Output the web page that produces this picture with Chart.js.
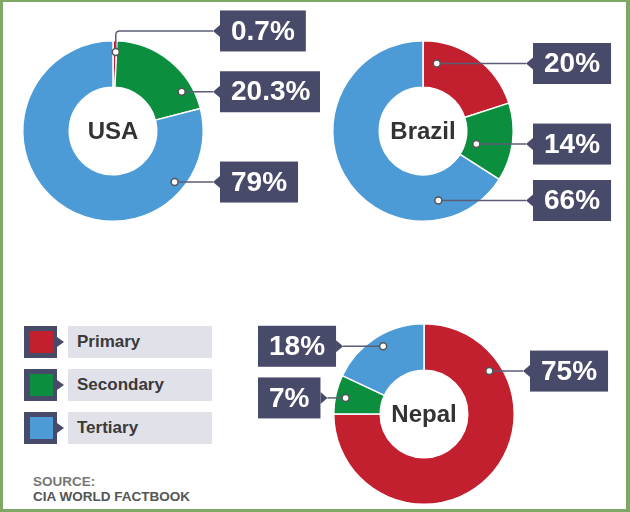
<!DOCTYPE html>
<html lang="en">
<head>
    <meta charset="UTF-8">
    <title>Employment by sector</title>
    <script src="https://cdn.jsdelivr.net/npm/chart.js@4.4.1/dist/chart.umd.min.js"></script>
    <style>
        html, body { margin: 0; padding: 0; background: #fff; }
        body { width: 630px; height: 512px; position: relative; overflow: hidden;
               font-family: "Liberation Sans", Arial, sans-serif; }
        .frame { position: absolute; left: 0; top: 0; width: 623px; height: 507px;
                 border-style: solid; border-color: #7fa866; border-width: 2px 4px 3px 3px; }
        canvas { position: absolute; }
        .legend-row { position: absolute; left: 24px; height: 32px; width: 190px; }
        .legend-key { position: absolute; left: 0; top: 0; width: 33px; height: 32px; background: #484a6a; }
        .legend-key span { position: absolute; left: 6px; top: 5px; width: 23px; height: 22px; }
        .legend-key:after { content: ""; position: absolute; left: 33px; top: 11px;
                            border-left: 7px solid #484a6a; border-top: 5px solid transparent; border-bottom: 5px solid transparent; }
        .legend-text { position: absolute; left: 44px; top: 0; width: 144px; height: 32px; background: #e1e1e9;
                       font-weight: bold; font-size: 17px; color: #3a3a3a; line-height: 32px; text-indent: 9px; }
        .source { position: absolute; left: 33px; top: 474px; font-weight: bold; font-size: 13.5px; line-height: 15px; }
    </style>
</head>
<body>
<div class="frame"></div>
<canvas id="usa" width="320" height="250" style="left:0;top:0"></canvas>
<canvas id="brazil" width="310" height="250" style="left:320px;top:0"></canvas>
<canvas id="nepal" width="390" height="222" style="left:240px;top:290px"></canvas>
<div id="legend"></div>
<div class="source"><span style="color:#777">SOURCE:</span><br><span style="color:#555">CIA WORLD FACTBOOK</span></div>
<script>
    // employment share by sector, percent
    const sectors = ['Primary', 'Secondary', 'Tertiary'];
    const countries = ['USA', 'Brazil', 'Nepal'];
    const usaShares = [0.7, 20.3, 79];
    const brazilShares = [20, 14, 66];
    const nepalShares = [75, 7, 18];

    const sectorColours = ['#c21f2f', '#0b8f3e', '#4c9bd7'];
    const boxColour = '#484a6a';

    Chart.defaults.font.family = '"Liberation Sans", Arial, sans-serif';

    // dark value boxes with a pointer and a line to a dot inside the slice
    const callouts = {
        id: 'callouts',
        afterDraw(chart, args, opts) {
            const ctx = chart.ctx;
            const meta = chart.getDatasetMeta(0);
            const values = chart.data.datasets[0].data;
            ctx.save();
            ctx.font = 'bold 28px "Liberation Sans", Arial, sans-serif';
            meta.data.forEach((arc, i) => {
                const a = opts.anchors[i];
                const p = arc.getProps(['x', 'y', 'startAngle', 'endAngle', 'innerRadius', 'outerRadius'], true);
                const ang = p.startAngle + a.t * (p.endAngle - p.startAngle);
                const r = p.innerRadius + a.rf * (p.outerRadius - p.innerRadius);
                const dx = p.x + Math.cos(ang) * r;
                const dy = p.y + Math.sin(ang) * r;

                const label = values[i] + '%';
                const w = ctx.measureText(label).width + 22;
                const h = 41;
                const cy = dy + (a.dy || 0);
                const left = a.side === 'left';
                const bx = left ? opts.leftX : opts.rightX;
                const tipX = left ? bx + w + 7 : bx - 7;

                // connector
                ctx.strokeStyle = '#5b5d78';
                ctx.lineWidth = 1.5;
                ctx.beginPath();
                ctx.moveTo(dx, dy);
                if (Math.abs(cy - dy) > 1) {
                    const s = cy < dy ? -1 : 1;
                    ctx.lineTo(dx, cy - s * 4);
                    ctx.quadraticCurveTo(dx, cy, dx + (tipX > dx ? 4 : -4), cy);
                }
                ctx.lineTo(tipX, cy);
                ctx.stroke();

                // box + pointer
                ctx.fillStyle = boxColour;
                ctx.fillRect(bx, cy - h / 2, w, h);
                ctx.beginPath();
                if (left) {
                    ctx.moveTo(bx + w, cy - 6);
                    ctx.lineTo(bx + w + 7, cy);
                    ctx.lineTo(bx + w, cy + 6);
                } else {
                    ctx.moveTo(bx, cy - 6);
                    ctx.lineTo(bx - 7, cy);
                    ctx.lineTo(bx, cy + 6);
                }
                ctx.fill();

                ctx.fillStyle = '#fff';
                ctx.textBaseline = 'middle';
                ctx.textAlign = 'center';
                ctx.fillText(label, bx + w / 2, cy + 1);

                // dot
                ctx.beginPath();
                ctx.arc(dx, dy, 3.5, 0, Math.PI * 2);
                ctx.fillStyle = '#fff';
                ctx.fill();
                ctx.strokeStyle = '#555';
                ctx.stroke();
            });

            // country name in the hole
            const c = meta.data[0];
            ctx.fillStyle = '#333';
            ctx.font = 'bold 24px "Liberation Sans", Arial, sans-serif';
            ctx.textAlign = 'center';
            ctx.textBaseline = 'middle';
            ctx.fillText(opts.title, c.x, c.y + 1);
            ctx.restore();
        }
    };

    function donut(id, shares, title, padding, callout) {
        return new Chart(document.getElementById(id), {
            type: 'doughnut',
            data: {
                labels: sectors,
                datasets: [{
                    data: shares,
                    backgroundColor: sectorColours,
                    borderColor: '#fff',
                    borderWidth: 1.5
                }]
            },
            options: {
                responsive: false,
                animation: false,
                events: [],
                cutout: '48.5%',
                layout: { padding: padding },
                plugins: {
                    legend: { display: false },
                    tooltip: { enabled: false },
                    callouts: Object.assign({ title: title }, callout)
                }
            },
            plugins: [callouts]
        });
    }

    donut('usa', usaShares, countries[0],
        { left: 22, top: 40, right: 116, bottom: 28 },
        {
            rightX: 220,
            anchors: [
                { t: 0.8, rf: 0.76, dy: -21 },
                { t: 0.79, rf: 0.76 },
                { t: 0.19, rf: 0.78 }
            ]
        });

    donut('brazil', brazilShares, countries[1],
        { left: 12, top: 40, right: 116, bottom: 28 },
        {
            rightX: 213,
            anchors: [
                { t: 0.16, rf: 0.54 },
                { t: 0.63, rf: 0.24 },
                { t: 0.19, rf: 0.59 }
            ]
        });

    donut('nepal', nepalShares, countries[2],
        { left: 93, top: 33, right: 115, bottom: 7 },
        {
            rightX: 290,
            leftX: 18,
            anchors: [
                { t: 0.21, rf: 0.74 },
                { t: 0.46, rf: 0.78, side: 'left' },
                { t: 0.52, rf: 0.76, side: 'left' }
            ]
        });

    // legend built from the sector list
    const legend = document.getElementById('legend');
    sectors.forEach((name, i) => {
        legend.innerHTML += `
            <div class="legend-row" style="top:${326 + i * 43}px">
                <div class="legend-key"><span style="background:${sectorColours[i]}"></span></div>
                <div class="legend-text">${name}</div>
            </div>`;
    });
</script>
</body>
</html>
